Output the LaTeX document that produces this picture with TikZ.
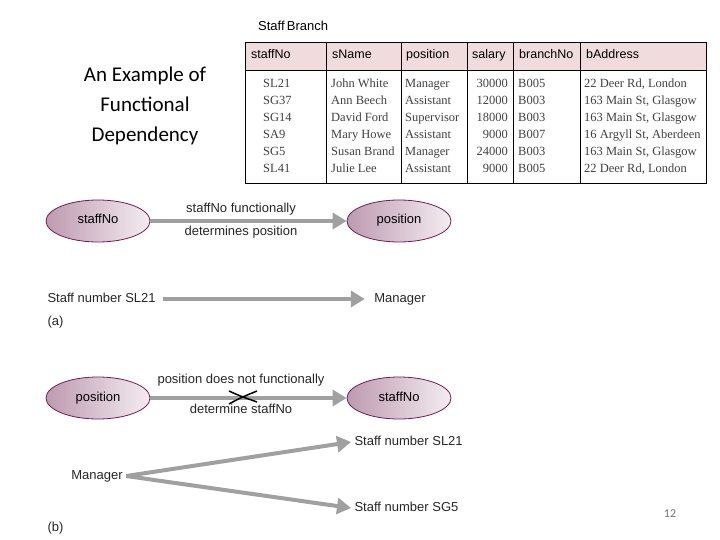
\documentclass[tikz,border=0pt]{standalone}
\usepackage{fontspec}
\setmainfont{Liberation Sans}
\newfontfamily\titlefont{Carlito}
\newfontfamily\tabfont{Liberation Serif}
\usetikzlibrary{shapes.geometric,arrows.meta}
\definecolor{hdrpink}{RGB}{240,220,220}
\definecolor{ellborder}{RGB}{110,30,80}
\definecolor{arrgray}{RGB}{160,160,160}
\tikzset{
  attr/.style={ellipse,draw=ellborder,line width=0.8pt,minimum width=104pt,minimum height=42pt,
    left color=ellborder!45,right color=ellborder!8,font=\fontsize{13}{15}\selectfont,
    text height=9pt,text depth=3pt},
  lbl/.style={font=\fontsize{13}{15}\selectfont,text=black!85,text height=9pt,text depth=3pt},
  fd/.style={draw=arrgray,line width=4pt,-{Triangle[length=14pt,width=16pt]}},
  cell/.style={font=\tabfont\fontsize{12.5}{14}\selectfont,text=black!75,anchor=west,inner sep=0pt,
    text height=8.5pt,text depth=2.5pt},
  head/.style={font=\fontsize{12.5}{14}\selectfont,anchor=west,inner sep=0pt,
    text height=9pt,text depth=3pt}
}
\begin{document}
\begin{tikzpicture}[x=1pt,y=-1pt]
\useasboundingbox (0,0) rectangle (720,540);
% title
\node[align=center,font=\titlefont\fontsize{21}{30}\selectfont] (title) at (145,106) {An Example of\\Functional\\Dependency};
% table
\node[head,font=\fontsize{13}{14}\selectfont] (tname) at (258,28) {Staff\,Branch};
\fill[hdrpink] (245,42) rectangle (706,70);
\draw[line width=0.9pt] (245,42) rectangle (706,183);
\draw[line width=0.6pt] (245,70) -- (706,70);
\foreach \x in {326,401,467,513,580}
  \draw[line width=0.8pt] (\x,42) -- (\x,183);
\foreach \x/\t in {251/staffNo,332/sName,406/position,472/salary,519/branchNo,586/bAddress}
  \node[head] at (\x,56) {\t};
\foreach \y/\a/\b/\c/\d/\e/\f in {
  85/SL21/John White/Manager/30000/B005/{22 Deer Rd, London},
  102/SG37/Ann Beech/Assistant/12000/B003/{163 Main St, Glasgow},
  119/SG14/David Ford/Supervisor/18000/B003/{163 Main St, Glasgow},
  136/SA9/Mary Howe/Assistant/9000/B007/{16 Argyll St, Aberdeen},
  153/SG5/Susan Brand/Manager/24000/B003/{163 Main St, Glasgow},
  170/SL41/Julie Lee/Assistant/9000/B005/{22 Deer Rd, London}}{
  \node[cell] at (263,\y) {\a};
  \node[cell] at (331,\y) {\b};
  \node[cell] at (405,\y) {\c};
  \node[cell,anchor=east] at (508,\y) {\d};
  \node[cell] at (518,\y) {\e};
  \node[cell] at (584,\y) {\f};
}
% (a)
\node[attr] (staffNo) at (98,221) {staffNo};
\node[attr] (position) at (399,221) {position};
\draw[fd] (staffNo) -- (position);
\node[lbl] (fdtop) at (241,210) {staffNo functionally};
\node[lbl] (fdbot) at (241,233) {determines position};
\node[lbl,anchor=west] (sl21) at (44,299) {Staff number SL21};
\node[lbl] (mgr) at (400,299) {Manager};
\draw[fd] ([xshift=4pt]sl21.east) -- ([xshift=-6pt]mgr.west);
\node[lbl,anchor=west] (parta) at (44,322) {(a)};
% (b)
\node[attr] (position2) at (98,398) {position};
\node[attr] (staffNo2) at (399,398) {staffNo};
\draw[fd] (position2) -- (staffNo2);
\draw[line width=1.5pt] (229,391) .. controls (240,396) .. (257,402);
\draw[line width=1.5pt] (229,404) .. controls (240,398) .. (257,391);
\node[lbl] (nfdtop) at (241,380) {position does not functionally};
\node[lbl] (nfdbot) at (241,410) {determine staffNo};
\node[lbl] (mgr2) at (97,476) {Manager};
\node[lbl,anchor=west] (sl21b) at (351,442) {Staff number SL21};
\node[lbl,anchor=west] (sg5) at (351,508) {Staff number SG5};
\draw[fd] (mgr2.east) -- (sl21b.west);
\draw[fd] (mgr2.east) -- (sg5.west);
\node[lbl,anchor=west] (partb) at (44,528) {(b)};
\node[font=\titlefont\fontsize{12}{14}\selectfont,text=black!55] (page) at (670,514) {12};
\end{tikzpicture}
\end{document}
